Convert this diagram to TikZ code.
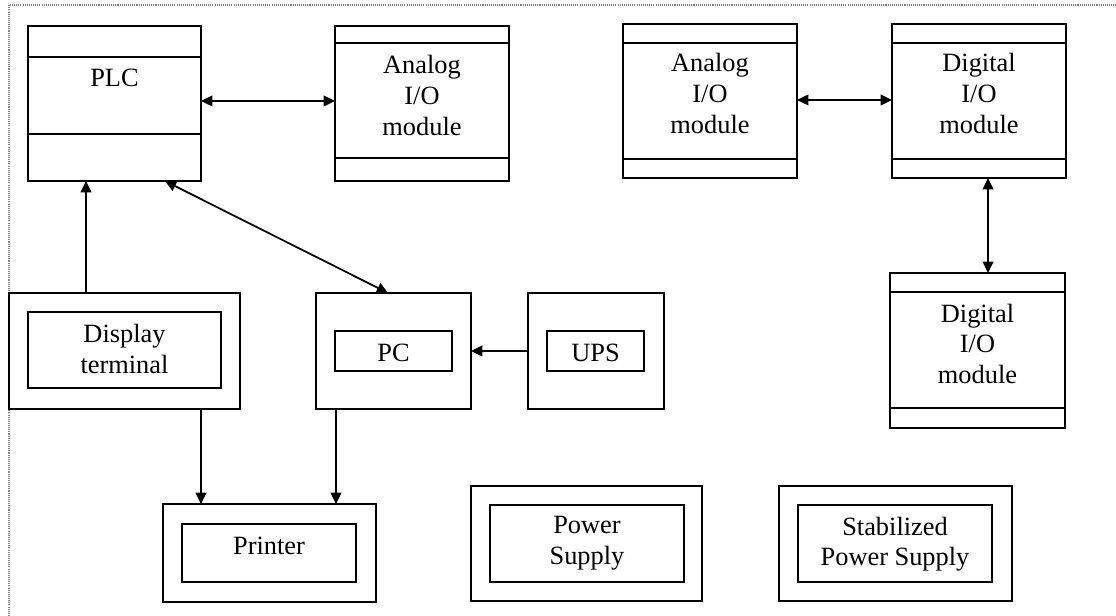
\documentclass[tikz,border=0pt]{standalone}
\usepackage{fontspec}
\setmainfont{Liberation Serif}
\usetikzlibrary{calc,arrows.meta}
\begin{document}
\begin{tikzpicture}[x=0.01cm,y=-0.01cm,
  heavy/.style={draw, line width=0.8pt, inner sep=0pt, outer sep=0pt},
  light/.style={draw, line width=0.55pt, inner sep=0pt, outer sep=0pt},
  divider/.style={line width=0.7pt},
  txt/.style={inner sep=0pt, anchor=north, align=center, font=\fontsize{7.5}{8.8}\selectfont},
  tip/.tip={Triangle[length=3.2pt,width=3pt]},
  arr/.style={line width=0.5pt, -tip},
  biarr/.style={line width=0.5pt, tip-tip},
  frame/.style={line width=0.3pt, gray, dash pattern=on 0.3pt off 0.3pt}
]
\useasboundingbox (0,0) rectangle (1116,616);
\draw[frame] (9,616) -- (9,5) -- (1116,5);

% PLC
\node[heavy, minimum width=1.73cm, minimum height=1.55cm] (plc) at (114.5,103.5) {};
\draw[divider] ($(plc.north west)+(0,31)$) -- ($(plc.north east)+(0,31)$);
\draw[divider] ($(plc.south west)+(0,-47)$) -- ($(plc.south east)+(0,-47)$);
\node[txt] (plctxt) at (114.5,68) {PLC};

% Analog I/O module beside the PLC
\node[heavy, minimum width=1.74cm, minimum height=1.55cm] (aioa) at (422,103.5) {};
\draw[divider] ($(aioa.north west)+(0,17)$) -- ($(aioa.north east)+(0,17)$);
\draw[divider] ($(aioa.south west)+(0,-23)$) -- ($(aioa.south east)+(0,-23)$);
\node[txt] (aioatxt) at (422,55) {Analog\\I/O\\module};

% Analog I/O module, right group
\node[heavy, minimum width=1.74cm, minimum height=1.54cm] (aiob) at (710,101) {};
\draw[divider] ($(aiob.north west)+(0,19)$) -- ($(aiob.north east)+(0,19)$);
\draw[divider] ($(aiob.south west)+(0,-19)$) -- ($(aiob.south east)+(0,-19)$);
\node[txt] (aiobtxt) at (710,53) {Analog\\I/O\\module};

% Digital I/O module, upper
\node[heavy, minimum width=1.74cm, minimum height=1.54cm] (dioa) at (979,101) {};
\draw[divider] ($(dioa.north west)+(0,19)$) -- ($(dioa.north east)+(0,19)$);
\draw[divider] ($(dioa.south west)+(0,-19)$) -- ($(dioa.south east)+(0,-19)$);
\node[txt] (dioatxt) at (979,53) {Digital\\I/O\\module};

% Digital I/O module, lower
\node[heavy, minimum width=1.75cm, minimum height=1.55cm] (diob) at (977.5,350.5) {};
\draw[divider] ($(diob.north west)+(0,19)$) -- ($(diob.north east)+(0,19)$);
\draw[divider] ($(diob.south west)+(0,-20)$) -- ($(diob.south east)+(0,-20)$);
\node[txt] (diobtxt) at (977.5,303) {Digital\\I/O\\module};

% Display terminal
\node[heavy, minimum width=2.31cm, minimum height=1.16cm] (disp) at (124.5,351) {};
\node[light, minimum width=1.93cm, minimum height=0.76cm] (dispin) at (124.5,350) {};
\node[txt] (disptxt) at (124.5,324) {Display\\terminal};

% PC
\node[heavy, minimum width=1.55cm, minimum height=1.16cm] (pc) at (393.5,351) {};
\node[light, minimum width=1.17cm, minimum height=0.40cm] (pcin) at (393.5,351) {};
\node[txt] (pctxt) at (393.5,343) {PC};

% UPS
\node[light, minimum width=1.36cm, minimum height=1.16cm] (ups) at (596,351) {};
\node[light, minimum width=0.97cm, minimum height=0.40cm] (upsin) at (595.5,351) {};
\node[txt] (upstxt) at (595.5,343) {UPS};

% Printer
\node[heavy, minimum width=2.13cm, minimum height=0.98cm] (prn) at (269.5,553) {};
\node[light, minimum width=1.74cm, minimum height=0.58cm] (prnin) at (269,553) {};
\node[txt] (prntxt) at (269,536) {Printer};

% Power supplies
\node[light, minimum width=2.31cm, minimum height=1.15cm] (pwr) at (586.5,543.5) {};
\node[light, minimum width=1.94cm, minimum height=0.77cm] (pwrin) at (587,543.5) {};
\node[txt] (pwrtxt) at (587,516) {Power\\Supply};

\node[light, minimum width=2.33cm, minimum height=1.15cm] (stab) at (895.5,543.5) {};
\node[light, minimum width=1.94cm, minimum height=0.77cm] (stabin) at (895,543.5) {};
\node[txt] (stabtxt) at (895,516) {Stabilized\\Power Supply};

% Connectors
\draw[biarr] ($(plc.east)+(0,-2.5)$) -- ($(aioa.west)+(0,-2.5)$);
\draw[biarr] ($(aiob.east)+(0,-1)$) -- ($(dioa.west)+(0,-1)$);
\coordinate (dcol) at (988,0);
\draw[biarr] (dioa.south -| dcol) -- (diob.north -| dcol);
\coordinate (tcol) at (86,0);
\draw[arr] (disp.north -| tcol) -- (plc.south -| tcol);
\coordinate (pa) at (165,0);
\coordinate (pb) at (388,0);
\draw[biarr] (plc.south -| pa) -- (pc.north -| pb);
\draw[arr] (ups.west) -- (pc.east);
\coordinate (lcol) at (201,0);
\coordinate (rcol) at (336,0);
\draw[arr] (disp.south -| lcol) -- (prn.north -| lcol);
\draw[arr] (pc.south -| rcol) -- (prn.north -| rcol);
\end{tikzpicture}
\end{document}
